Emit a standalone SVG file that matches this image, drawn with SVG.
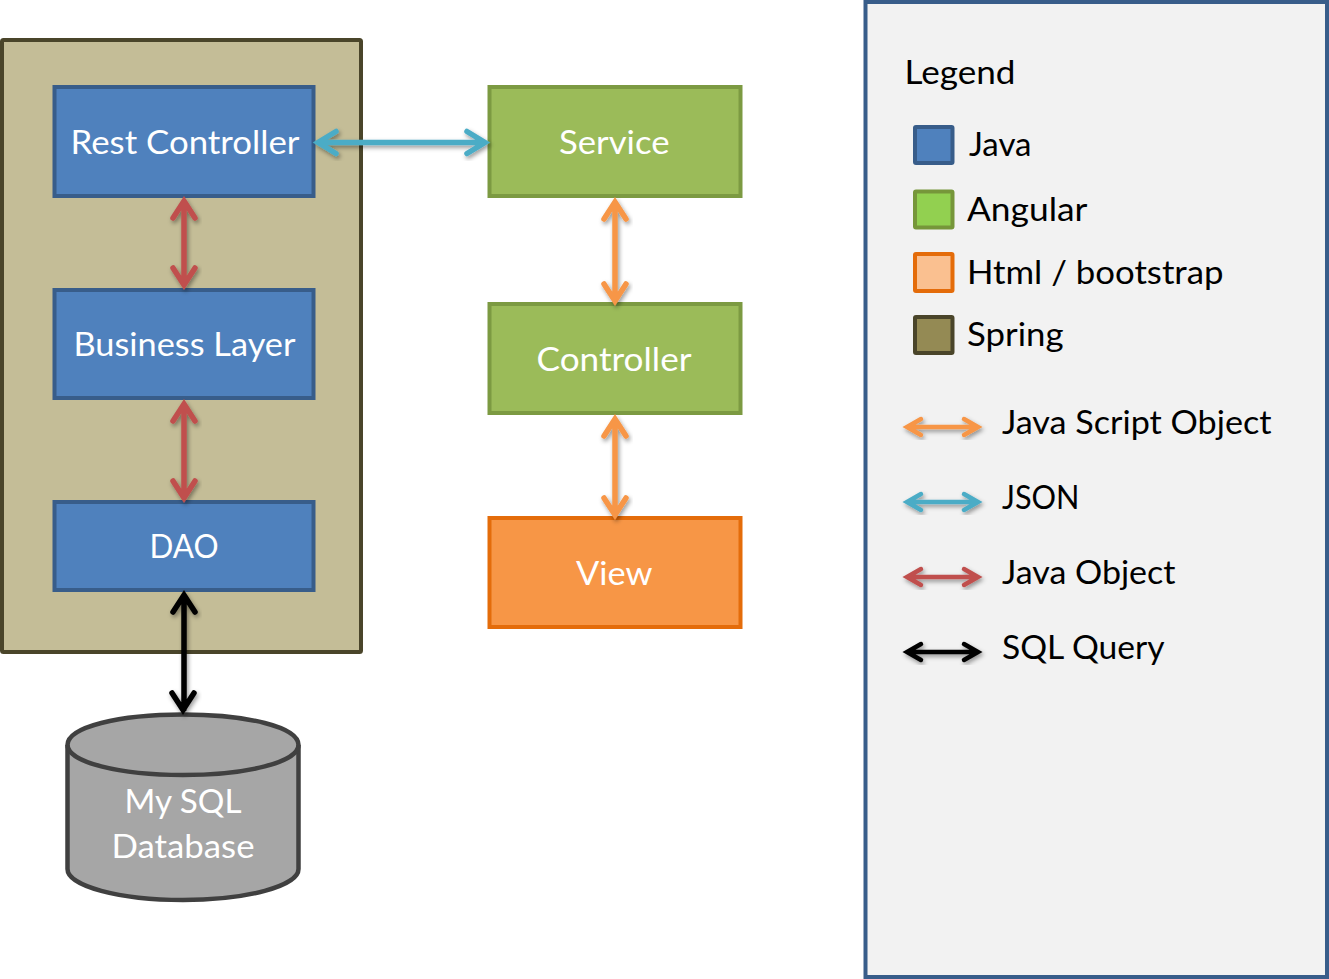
<svg xmlns="http://www.w3.org/2000/svg" width="1329" height="979" viewBox="0 0 1329 979">
<style>
text{font-family:"Lato","Open Sans",sans-serif;font-size:33px}
.w{fill:#fff}.k{fill:#000}
.blue{fill:#4f81bd;stroke:#385d8a;stroke-width:4}
.green{fill:#9bbb59;stroke:#7c9a42;stroke-width:4}
.orange{fill:#f79646;stroke:#e46c0a;stroke-width:4}
.sw{stroke-width:4}
.a{fill:none;stroke-linecap:round;stroke-linejoin:miter;stroke-miterlimit:10;filter:url(#sh)}
.big{stroke-width:5.500}.small{stroke-width:4.500}
</style>
<defs>
<filter id="sh" x="-30%" y="-30%" width="160%" height="160%" filterUnits="objectBoundingBox"><feDropShadow dx="1.5" dy="2.5" stdDeviation="2" flood-color="#000" flood-opacity=".4"/></filter>
</defs>
<g id="spring-container"><rect x="2" y="40" width="359" height="612" rx="1.5" fill="#c4bd97" stroke="#4a452a" stroke-width="4"/></g>
<g id="rest-controller"><rect class="blue" x="54.500" y="87" width="259" height="109"/><text class="w" x="70.500" y="154" textLength="229" lengthAdjust="spacingAndGlyphs">Rest Controller</text></g>
<g id="business-layer"><rect class="blue" x="54.500" y="290" width="259" height="108"/><text class="w" x="73.500" y="356" textLength="222" lengthAdjust="spacingAndGlyphs">Business Layer</text></g>
<g id="dao"><rect class="blue" x="54.500" y="502" width="259" height="88"/><text class="w" x="149.500" y="558" textLength="69" lengthAdjust="spacingAndGlyphs">DAO</text></g>
<g id="service"><rect class="green" x="489.500" y="87" width="251" height="109"/><text class="w" x="559" y="154" textLength="110.500" lengthAdjust="spacingAndGlyphs">Service</text></g>
<g id="controller"><rect class="green" x="489.500" y="304" width="251" height="109"/><text class="w" x="536.500" y="371" textLength="155" lengthAdjust="spacingAndGlyphs">Controller</text></g>
<g id="view"><rect class="orange" x="489.500" y="518" width="251" height="109"/><text class="w" x="576" y="585" textLength="76.500" lengthAdjust="spacingAndGlyphs">View</text></g>
<g id="database"><path d="M67.500 745C67.500 727 119 714.500 183 714.500S298.500 727 298.500 745V869C298.500 886 247 900 183 900S67.500 886 67.500 869Z" fill="#a6a6a6" stroke="#404040" stroke-width="4.500"/><path d="M67.500 745C67.500 762 119 775 183 775S298.500 762 298.500 745" fill="none" stroke="#404040" stroke-width="4.500"/><text class="w" x="124.500" y="813" textLength="117" lengthAdjust="spacingAndGlyphs">My SQL</text><text class="w" x="111.500" y="858" textLength="143" lengthAdjust="spacingAndGlyphs">Database</text></g>
<g id="legend"><rect x="865.500" y="2" width="461.500" height="975" fill="#f2f2f2" stroke="#385d8a" stroke-width="4"/>
<text class="k" x="904.500" y="84" textLength="111" lengthAdjust="spacingAndGlyphs">Legend</text>
<rect class="sw" x="915" y="127" width="37.500" height="36" rx="1" fill="#4f81bd" stroke="#385d8a"/><text class="k" x="969" y="156" textLength="62.500" lengthAdjust="spacingAndGlyphs">Java</text>
<rect class="sw" x="915" y="191.500" width="37.500" height="36" rx="1" fill="#92d050" stroke="#76963a"/><text class="k" x="967" y="221" textLength="120.500" lengthAdjust="spacingAndGlyphs">Angular</text>
<rect class="sw" x="915" y="254" width="37.500" height="37" rx="1" fill="#fac090" stroke="#e46c0a"/><text class="k" x="967" y="284" textLength="256.500" lengthAdjust="spacingAndGlyphs">Html / bootstrap</text>
<rect class="sw" x="915" y="317" width="37.500" height="36" rx="1" fill="#948a54" stroke="#4a452a"/><text class="k" x="967" y="346" textLength="96.500" lengthAdjust="spacingAndGlyphs">Spring</text>
<text class="k" x="1002" y="434" textLength="269.500" lengthAdjust="spacingAndGlyphs">Java Script Object</text>
<text class="k" x="1002" y="509" textLength="77.500" lengthAdjust="spacingAndGlyphs">JSON</text>
<text class="k" x="1002" y="584" textLength="173.500" lengthAdjust="spacingAndGlyphs">Java Object</text>
<text class="k" x="1002" y="659" textLength="162.500" lengthAdjust="spacingAndGlyphs">SQL Query</text>
</g>
<g id="connectors">
<path class="a big" stroke="#4bacc6" d="M319 142.500H484M336 131.500L318 142.500L336 153.500M467 131.500L485 142.500L467 153.500"/>
<path class="a big" stroke="#c0504d" d="M184 202V284M173 218L184 201L195 218M173 268L184 285L195 268"/>
<path class="a big" stroke="#c0504d" d="M184 405V497M173 421L184 404L195 421M173 481L184 498L195 481"/>
<path class="a big" stroke="#000" d="M184 596V709M173 612L184 595L195 612M172 693L183 710L194 693"/>
<path class="a big" stroke="#f79646" d="M615 203V300M604 219L615 202L626 219M604 284L615 301L626 284"/>
<path class="a big" stroke="#f79646" d="M615 420V514M604 436L615 419L626 436M604 498L615 515L626 498"/>
<path class="a small" stroke="#f79646" d="M908 427H977M921 419L907 427L921 435M964 419L978 427L964 435"/>
<path class="a small" stroke="#4bacc6" d="M908 502H977M921 494L907 502L921 510M964 494L978 502L964 510"/>
<path class="a small" stroke="#c0504d" d="M908 577H977M921 569L907 577L921 585M964 569L978 577L964 585"/>
<path class="a small" stroke="#000" d="M908 652H977M921 644L907 652L921 660M964 644L978 652L964 660"/>
</g>
</svg>
